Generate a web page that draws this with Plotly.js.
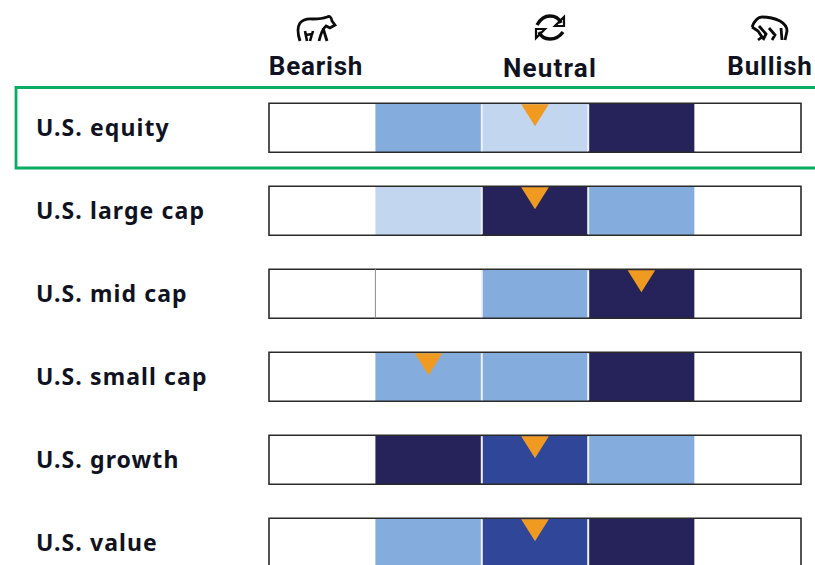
<!DOCTYPE html>
<html>
<head>
<meta charset="utf-8">
<script src="https://cdn.plot.ly/plotly-3.0.1.min.js"></script>
<style>html,body{margin:0;padding:0;background:#fff;overflow:hidden}</style>
</head>
<body>
<div id="chart" style="width:815px;height:565px"></div>
<script>
const categories = ["U.S. equity","U.S. large cap","U.S. mid cap","U.S. small cap","U.S. growth","U.S. value"];
const headers = ["Bearish","Neutral","Bullish"];
// shading level of each of the five cells, row by row (0 white, 1 light, 2 medium, 3 royal, 4 navy)
const column1 = [0,0,0,0,0,0];
const column2 = [2,1,0,2,4,2];
const column3 = [1,4,2,2,3,3];
const column4 = [4,2,4,4,2,4];
const column5 = [0,0,0,0,0,0];
// triangle position on the 0–5 bar scale
const current = [2.5,2.5,3.5,1.5,2.5,2.5];
const levelColors = ["#ffffff","#c3d6ef","#84acdd","#2f4699","#25235a"];

const W = 815, H = 565;
const boxL = 269, boxR = 801, rowTop = 127.7, rowStep = 83.0;
const unit = (boxR - boxL) / 5;
const barH = 49 / rowStep;
const rows = categories.map((_, i) => i);
const columns = [column1, column2, column3, column4, column5];

const traces = columns.map((col, c) => ({
  type: "bar", orientation: "h", y: rows, x: rows.map(() => 1), base: rows.map(() => c),
  width: barH, marker: {color: col.map(l => levelColors[l]), line: {width: 0}}, hoverinfo: "skip"
}));
traces.push({
  type: "bar", orientation: "h", y: rows, x: rows.map(() => 5), base: rows.map(() => 0), width: barH,
  marker: {color: "rgba(0,0,0,0)", line: {color: "#2a2a2a", width: 1.6}}, hoverinfo: "skip"
});
// white dividers between the three centre cells
const divX = [], divY = [];
rows.forEach(r => [2, 3].forEach(d => {
  divX.push(d, d, null); divY.push(r - barH/2 + 0.012, r + barH/2 - 0.012, null);
}));
traces.push({type: "scatter", mode: "lines", x: divX, y: divY, line: {color: "#eef1f8", width: 2}, hoverinfo: "skip"});
traces.push({type: "scatter", mode: "lines", x: [1, 1], y: [2 - barH/2, 2 + barH/2], line: {color: "#8a8a8a", width: 1}, hoverinfo: "skip"});
// orange pointers
const triX = [], triY = [];
const halfW = 13.8 / unit, triH = 22 / rowStep;
current.forEach((p, r) => {
  const t = r - barH/2 + 0.012;
  triX.push(p - halfW, p + halfW, p, p - halfW, null);
  triY.push(t, t, t + triH, t, null);
});
traces.push({type: "scatter", mode: "lines", x: triX, y: triY, fill: "toself", fillcolor: "#f09a22", line: {width: 0, color: "#f09a22"}, hoverinfo: "skip"});

const px = x => x / W, py = y => 1 - y / H;
const ann = (text, x, y, anchor, size, family) => ({
  text, x: px(x), y: py(y), xref: "paper", yref: "paper", xanchor: anchor, yanchor: "middle", showarrow: false,
  font: {family, size, color: "#10131f"}
});
const annotations = [
  ...categories.map((c, i) => ann("<b>" + c + "</b>", 33, rowTop + i * rowStep - 0.5, "left", 23, "Noto Sans")),
  ann("<b>" + headers[0] + "</b>", 316, 66, "center", 26, "Roboto"),
  ann("<b>" + headers[1] + "</b>", 550, 68, "center", 26, "Roboto"),
  ann("<b>" + headers[2] + "</b>", 770, 66, "center", 26, "Roboto")
];

const flip = d => d.replace(/(-?[\d.]+),(-?[\d.]+)/g, (m, a, b) => a + "," + (-b));
const icon = (x, y, d, w) => ({
  type: "path", xref: "paper", yref: "paper", xsizemode: "pixel", ysizemode: "pixel",
  xanchor: px(x), yanchor: py(y), path: flip(d), fillcolor: "rgba(0,0,0,0)",
  line: {color: "#0b0b0b", width: w}
});
const shapes = [
  {type: "rect", xref: "paper", yref: "paper", x0: px(16), x1: 1.01, y0: py(87.5), y1: py(168),
   line: {color: "#0bad64", width: 2.8}, fillcolor: "rgba(0,0,0,0)"},
  // bear
  icon(280, 5, "M20,36 Q16,24 20,18 Q24,13 33,14 Q42,14 47,12 Q51,10 52,16 L55,20 L50,23 L46,21 Q42,24 39,36", 2.8),
  icon(280, 5, "M47,36 L43,23", 2.8),
  icon(280, 5, "M27,36 L25,26 M33,26 L30,36 M25,30 L33,29", 2.6),
  // refresh
  icon(520, 5, "M17,20 Q22,11 30,11 Q38,11 41,18", 3.4),
  icon(520, 5, "M44,12 L44,21 L35,21 Z", 2.2),
  icon(520, 5, "M43,27 Q38,34 30,34 Q22,34 19,27", 3.4),
  icon(520, 5, "M16,33 L16,24 L25,24 Z", 2.2),
  // bull
  icon(740, 5, "M12,22 Q16,12 22,12 Q32,12 40,16 Q47,20 47,26 L45,35", 2.8),
  icon(740, 5, "M12,22 L18,26 L22,32 L18,35 M19,21 L26,29 L23,35 M29,23 L35,30 L32,35 M41,23 L42,35", 2.8)
];

const layout = {
  width: W, height: H, margin: {l: 0, r: 0, t: 0, b: 0},
  paper_bgcolor: "#fff", plot_bgcolor: "#fff", barmode: "overlay", showlegend: false,
  xaxis: {range: [-boxL / unit, (W - boxL) / unit], visible: false, fixedrange: true},
  yaxis: {range: [(H - rowTop) / rowStep, -rowTop / rowStep], visible: false, fixedrange: true},
  annotations, shapes
};
Plotly.newPlot("chart", traces, layout, {displayModeBar: false, staticPlot: true}).then(gd => {
  // the reference type is tracked out a little wider than the installed fonts;
  // re-seat each label after widening so its edge or centre stays where the reference has it
  const headerCentres = [316, 550, 770];
  const labelLeft = 36;
  gd.querySelectorAll(".annotation-text").forEach((t, i) => {
    const isRow = i < categories.length;
    t.style.letterSpacing = isRow ? "1.1px" : (i === categories.length + 1 ? "1.2px" : "0.8px");
    const box = t.getBoundingClientRect();
    const dx = isRow ? labelLeft - box.left : headerCentres[i - categories.length] - (box.left + box.right) / 2;
    t.setAttribute("x", parseFloat(t.getAttribute("x") || 0) + dx);
  });
});
</script>
</body>
</html>
